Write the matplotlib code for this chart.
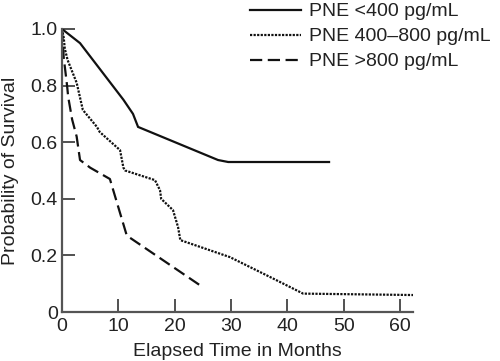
import matplotlib
matplotlib.use("Agg")
import matplotlib.pyplot as plt

plt.rcParams['font.family'] = ['Liberation Sans', 'DejaVu Sans']

# Data
low_t = [0, 3.2, 10.9, 12.6, 13.5, 27.7, 29.5, 47.4]
low_s = [1.0, 0.95, 0.75, 0.70, 0.654, 0.537, 0.53, 0.53]

mid_t = [0, 0.3, 0.5, 1.0, 2.6, 3.7, 6.2, 6.7, 10.3, 10.9, 11.2, 16.5, 17.4, 17.6, 19.7, 20.6, 21.0, 29.8, 36.9, 42.8, 62.3]
mid_s = [1.0, 0.97, 0.93, 0.89, 0.81, 0.714, 0.654, 0.636, 0.572, 0.51, 0.50, 0.466, 0.43, 0.40, 0.36, 0.30, 0.254, 0.194, 0.124, 0.065, 0.06]

high_t = [0, 0.3, 0.9, 1.1, 1.8, 2.6, 3.2, 5.0, 8.5, 11.5, 24.9]
high_s = [1.0, 0.9, 0.8, 0.76, 0.68, 0.62, 0.537, 0.51, 0.47, 0.27, 0.089]

labels = ["PNE <400 pg/mL", "PNE 400\u2013800 pg/mL", "PNE >800 pg/mL"]
xticks = [0, 10, 20, 30, 40, 50, 60]
yticks = [0, 0.2, 0.4, 0.6, 0.8, 1.0]
yticklabels = ["0", "0.2", "0.4", "0.6", "0.8", "1.0"]

fs = 14

fig = plt.figure(figsize=(5.0, 3.61), dpi=100)
ax = fig.add_axes([0.124, 0.1357, 0.702, 0.784])

lc = '#111111'
l1, = ax.plot(low_t, low_s, color=lc, lw=1.6, solid_joinstyle='miter')
l2, = ax.plot(mid_t, mid_s, color=lc, lw=1.6, linestyle=(0, (1.0, 0.6)))
l3, = ax.plot(high_t, high_s, color=lc, lw=1.6, linestyle=(0, (5.5, 2.5)))

ax.set_xlim(0, 62.3)
ax.set_ylim(0, 1.0)
ax.set_xticks(xticks)
ax.set_yticks(yticks)
ax.set_yticklabels(yticklabels)

for s in ['top', 'right']:
    ax.spines[s].set_visible(False)
for s in ['left', 'bottom']:
    ax.spines[s].set_color('#555555')
    ax.spines[s].set_linewidth(1.6)

ax.tick_params(direction='in', length=9.5, width=1.2, color='#333333',
               labelsize=fs, labelcolor='#222222')
ax.tick_params(axis='x', pad=4)
ax.tick_params(axis='y', pad=3)

ax.set_xlabel("Elapsed Time in Months", fontsize=fs, color='#222222', labelpad=6)
ax.set_ylabel("Probability of Survival", fontsize=fs, color='#222222', labelpad=8)

fig.legend([l1, l2, l3], labels, loc='upper left', bbox_to_anchor=(0.50, 0.992),
           frameon=False, fontsize=fs, handlelength=2.6, handletextpad=0.45,
           labelspacing=0.38, borderaxespad=0, borderpad=0, labelcolor='#222222')

fig.savefig("out.png", dpi=100)
